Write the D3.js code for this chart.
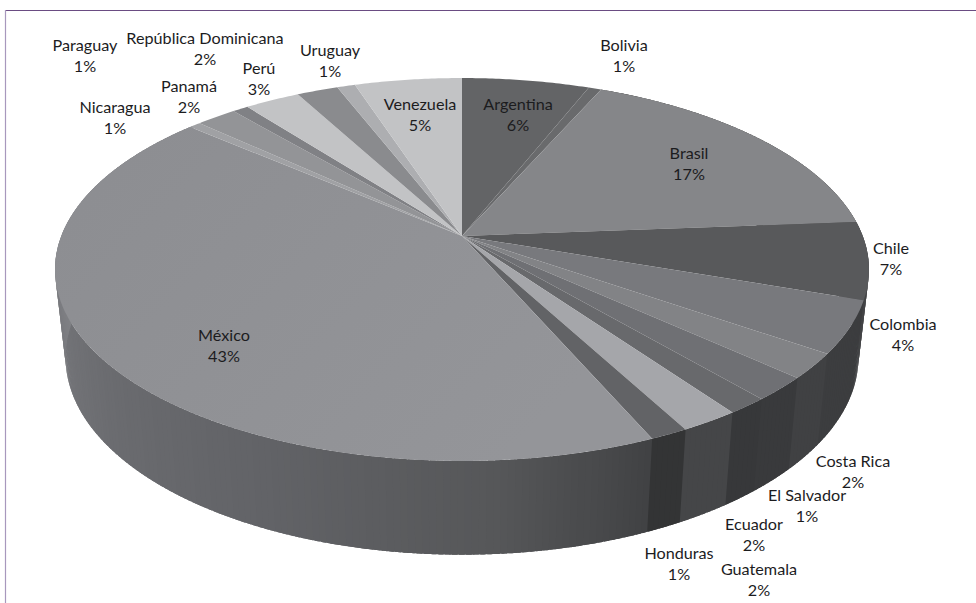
<!DOCTYPE html>
<html><head><meta charset="utf-8">
<script src="https://cdnjs.cloudflare.com/ajax/libs/d3/7.8.5/d3.min.js"></script>
<style>html,body{margin:0;padding:0;background:#fff;overflow:hidden}svg{display:block}text{font-family:Lato,"Open Sans",sans-serif;font-size:16.2px;fill:#1c1c1e}</style>
</head><body><svg id="c" width="976" height="603"></svg>
<script>
// ---- data ----
const categories = ["Argentina","Bolivia","Brasil","Chile","Colombia","Costa Rica","Ecuador","El Salvador","Guatemala","Honduras","México","Nicaragua","Panamá","Paraguay","Perú","República Dominicana","Uruguay","Venezuela"];
const shares = [6.0,0.6,17.2,6.5,4.4,2.1,2.0,1.4,2.0,1.3,42.9,0.55,1.9,0.75,2.6,1.95,0.85,5.05];
// ---- style ----
const topColors = ["#636466","#696a6c","#858689","#58595b","#78797d","#828386","#6f7074","#68696c","#a5a6aa","#626366","url(#mx)","#a0a1a4","#939497","#808185","#c2c3c5","#8a8b8e","#adaeb1","#c2c3c5"];
const sideColors = ["#555","#555","#555","#434446","#3c3d3f","#404143","#393a3c","#37383a","#454648","#333435",null,"#777","#777","#777","#777","#777","#777","#777"];
const labelCenters = [[518,104],[624,45],[689,153],[891,248],[903,324],[853,461],[754,524],[807,495],[759,569],[679,553],[224,335],[115,107],[189,86],[85,45],[259,68],[205,38],[330,50],[420,104]];
// ---- geometry ----
const apex = {x:462,y:236}, persp = -0.175, a = 185.6, k = 400.7;
const project = th => { const X=Math.sin(th), Y=-Math.cos(th), w=1+persp*Y;
  return [apex.x+k*X/w, apex.y+a*Y/w]; };
const lower = p => [apex.x+0.974*(p[0]-apex.x), apex.y+1.03*(p[1]-apex.y)+87];
const mexicoSide = d3.scaleLinear().domain([156,176,205,230,250,270].map(d=>d*Math.PI/180))
  .range(["#404143","#565759","#626367","#6a6b6f","#737478","#808185"]).clamp(true);

const svg = d3.select("#c");
const g0 = svg.append("defs").append("linearGradient").attr("id","mx").attr("gradientUnits","userSpaceOnUse")
  .attr("x1",150).attr("y1",130).attr("x2",500).attr("y2",462);
g0.append("stop").attr("offset",0).attr("stop-color","#8d8e92");
g0.append("stop").attr("offset",1).attr("stop-color","#949599");

const arcs = d3.pie().sort(null).value(d=>d)(shares);
const line = d3.line();
const sampled = (s,e,step) => { const n=Math.max(2,Math.ceil((e-s)/step)); return d3.range(n+1).map(i=>s+(e-s)*i/n); };

// side wall: overlapping quads painted from the right rim round to the left rim
const side = svg.append("g");
arcs.forEach((d,i)=>{
  if (d.endAngle<Math.PI*0.4 || d.startAngle>Math.PI*1.6) return;
  const ts = sampled(d.startAngle,d.endAngle,0.015);
  d3.pairs(ts).forEach(([t0,t1])=>{
    const c = sideColors[i] || mexicoSide((t0+t1)/2);
    const edge = sampled(t0,t1+0.012,0.004).map(project);
    side.append("path").attr("d",line([...edge,...edge.map(lower).reverse()])+"Z").attr("fill",c);
  });
});
// top face
svg.append("g").selectAll("path").data(arcs).join("path")
  .attr("d",d=>line([[apex.x,apex.y],...sampled(d.startAngle,d.endAngle,0.01).map(project)])+"Z")
  .attr("fill",(d,i)=>topColors[i]);
// labels
const lab = svg.append("g").attr("text-anchor","middle");
categories.forEach((c,i)=>{
  const [x,y]=labelCenters[i];
  lab.append("text").attr("x",x).attr("y",y+6).text(c);
  lab.append("text").attr("x",x).attr("y",y+27).text(Math.round(shares[i])+"%");
});
// frame
svg.append("line").attr("x1",5).attr("x2",976).attr("y1",10.5).attr("y2",10.5).attr("stroke","#6a4c82").attr("stroke-width",1.2);
svg.append("line").attr("x1",5.5).attr("x2",5.5).attr("y1",10).attr("y2",603).attr("stroke","#a898bd").attr("stroke-width",1.2);
</script></body></html>
